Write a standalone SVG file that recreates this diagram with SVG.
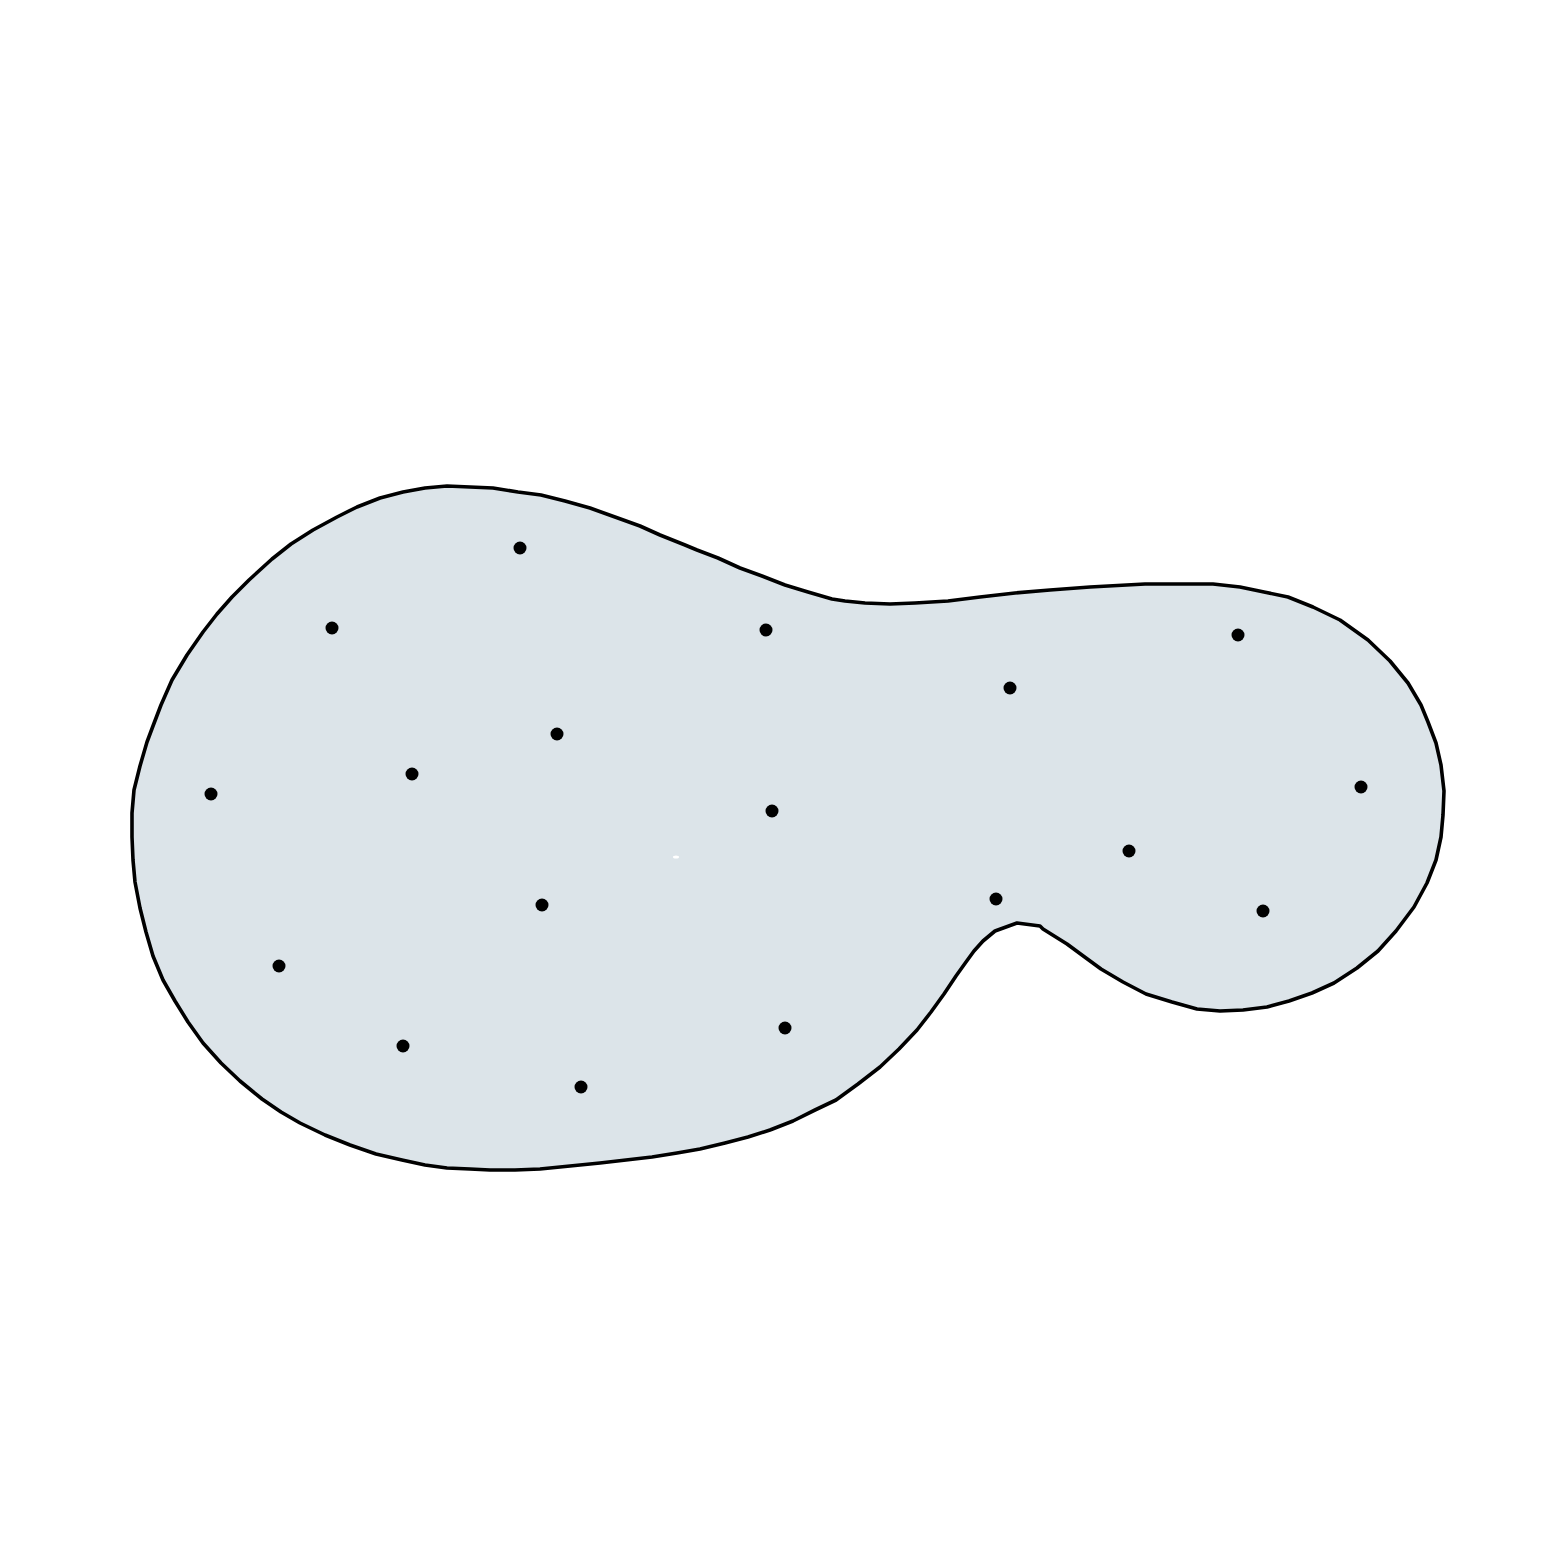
<svg xmlns="http://www.w3.org/2000/svg" width="1563" height="1563" viewBox="0 0 1563 1563">
<style>
.blob{fill:#dce4e9;stroke:#000;stroke-width:3.6;stroke-linejoin:round}
.pt{fill:#000}
</style>
<rect width="1563" height="1563" fill="#fff"/>
<g id="region">
<polygon class="blob" points="470,487 493,488 518,492 541,495 565,501 590,508 615,517 640,526 660,535 685,545 697,550 718,558 740,568 762,576 785,585 808,592 832,599 845,601 865,603 890,604 915,603 948,601 980,597 1015,593 1050,590 1090,587 1145,584 1175,584 1213,584 1240,587 1264,592 1288,597 1313,607 1340,620 1368,640 1390,661 1408,683 1421,705 1428,722 1436,743 1441,765 1444,791 1443,815 1441,837 1436,860 1427,883 1414,907 1396,931 1378,951 1357,968 1334,983 1312,993 1289,1001 1267,1007 1243,1010 1220,1011 1197,1009 1172,1002 1146,994 1123,982 1101,969 1086,958 1067,944 1043,929 1040,926 1017,923 995,931 983,941 974,951 966,962 956,976 944,994 931,1012 917,1030 899,1049 880,1067 858,1084 836,1100 815,1110 793,1121 770,1130 748,1137 725,1143 700,1149 677,1153 652,1157 626,1160 600,1163 570,1166 540,1169 515,1170 490,1170 470,1169 447,1168 425,1165 402,1160 376,1154 350,1145 325,1135 300,1123 281,1112 262,1099 240,1081 221,1063 203,1043 188,1022 175,1001 163,980 153,956 146,932 140,908 135,882 133,860 132,837 132,813 134,790 140,766 147,742 153,726 161,705 172,680 187,655 203,632 217,614 232,597 249,580 272,559 291,544 313,530 337,517 357,507 380,498 403,492 425,488 447,486"/>
<ellipse cx="676" cy="857" rx="3" ry="1.5" fill="#fff"/>
</g>
<g id="points">
<circle class="pt" cx="520" cy="548" r="6.5"/>
<circle class="pt" cx="332" cy="628" r="6.5"/>
<circle class="pt" cx="766" cy="630" r="6.5"/>
<circle class="pt" cx="1010" cy="688" r="6.5"/>
<circle class="pt" cx="1238" cy="635" r="6.5"/>
<circle class="pt" cx="557" cy="734" r="6.5"/>
<circle class="pt" cx="412" cy="774" r="6.5"/>
<circle class="pt" cx="211" cy="794" r="6.5"/>
<circle class="pt" cx="772" cy="811" r="6.5"/>
<circle class="pt" cx="1361" cy="787" r="6.5"/>
<circle class="pt" cx="1129" cy="851" r="6.5"/>
<circle class="pt" cx="996" cy="899" r="6.5"/>
<circle class="pt" cx="542" cy="905" r="6.5"/>
<circle class="pt" cx="1263" cy="911" r="6.5"/>
<circle class="pt" cx="279" cy="966" r="6.5"/>
<circle class="pt" cx="403" cy="1046" r="6.5"/>
<circle class="pt" cx="785" cy="1028" r="6.5"/>
<circle class="pt" cx="581" cy="1087" r="6.5"/>
</g>
</svg>
